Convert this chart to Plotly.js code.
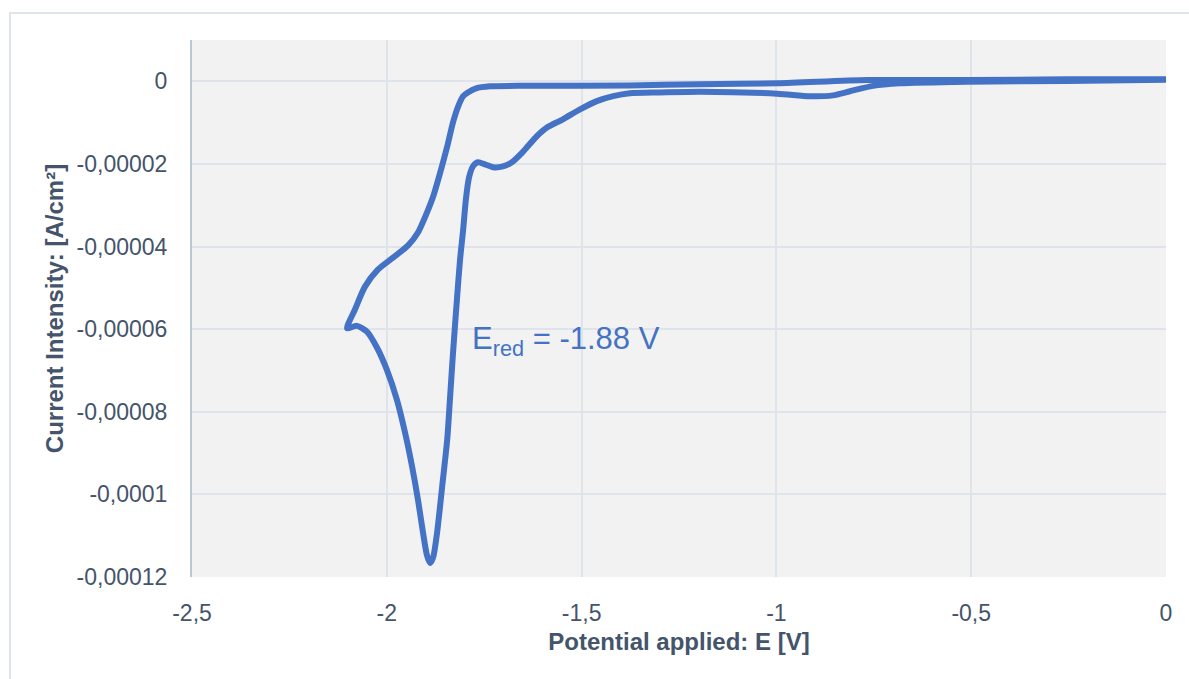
<!DOCTYPE html>
<html>
<head>
<meta charset="utf-8">
<script src="https://cdn.plot.ly/plotly-3.0.1.min.js"></script>
<style>
  html, body { margin: 0; padding: 0; background: #ffffff; overflow: hidden; }
  #frame { position: absolute; left: 9px; top: 12px; width: 1300px; height: 800px;
           border-left: 2px solid #dfe4ea; border-top: 2px solid #dfe4ea; box-sizing: border-box; }
  #chart { position: absolute; left: 0; top: 0; width: 1189px; height: 679px; }
</style>
</head>
<body>
<div id="frame"></div>
<div id="chart"></div>
<script>
// Potential (V) and current density (A/cm²), in scan order
const potential = [
  0.000, -0.254, -0.511, -0.767, -0.998, -1.196, -1.376, -1.632, -1.735, -1.771,
  -1.792, -1.804, -1.817, -1.830, -1.845, -1.863, -1.881, -1.897, -1.920, -1.946,
  -1.984, -2.023, -2.056, -2.082, -2.102,
  -2.077, -2.051, -2.025, -2.000, -1.974, -1.953, -1.935, -1.920, -1.907, -1.897,
  -1.889, -1.881, -1.871, -1.858, -1.845, -1.838, -1.830, -1.820, -1.812, -1.804,
  -1.797, -1.789, -1.779, -1.766, -1.748, -1.727, -1.702, -1.679, -1.650, -1.615,
  -1.589, -1.548, -1.504, -1.461, -1.419, -1.376, -1.299, -1.196, -0.998, -0.914,
  -0.855, -0.811, -0.752, -0.683, -0.511, -0.254, 0.000
];
const current = [
  0.0000005, 0.0000005, 0.0000003, 0.0000003, -0.0000005, -0.0000007, -0.0000010, -0.0000011, -0.0000012, -0.0000017,
  -0.0000027, -0.0000036, -0.0000061, -0.0000099, -0.0000158, -0.0000221, -0.0000279, -0.0000318, -0.0000366, -0.0000398,
  -0.0000427, -0.0000456, -0.0000497, -0.0000553, -0.0000598,
  -0.0000592, -0.0000606, -0.0000645, -0.0000698, -0.0000771, -0.0000851, -0.0000933, -0.0001013, -0.0001093, -0.0001147,
  -0.0001166, -0.0001152, -0.0001093, -0.0000982, -0.0000868, -0.0000771, -0.0000657, -0.0000528, -0.0000432, -0.0000359,
  -0.0000286, -0.0000233, -0.0000206, -0.0000196, -0.0000201, -0.0000208, -0.0000206, -0.0000196, -0.0000170, -0.0000133,
  -0.0000112, -0.0000092, -0.0000068, -0.0000048, -0.0000036, -0.0000029, -0.0000027, -0.0000025, -0.0000030, -0.0000036,
  -0.0000034, -0.0000024, -0.0000011, -0.0000005, -0.0000001, 0.0000001, 0.0000004
];

const xTickVals = [-2.5, -2, -1.5, -1, -0.5, 0];
const xTickText = ["-2,5", "-2", "-1,5", "-1", "-0,5", "0"];
const yTickVals = [0, -0.00002, -0.00004, -0.00006, -0.00008, -0.0001, -0.00012];
const yTickText = ["0", "-0,00002", "-0,00004", "-0,00006", "-0,00008", "-0,0001", "-0,00012"];

const annText = "E<sub>red</sub> = -1.88 V";
const annX = -1.786;
const annY = -0.0000628;

const fontFam = "Liberation Sans, Arial, Helvetica, sans-serif";
const txtCol = "#44546a";
const gridCol = "#dfe4ea";

const trace = {
  x: potential, y: current, type: "scatter", mode: "lines",
  line: { color: "#4472c4", width: 6, shape: "spline", smoothing: 0.7 },
  hoverinfo: "skip"
};

const layout = {
  width: 1189, height: 679,
  margin: { l: 192, r: 23, t: 40, b: 102, pad: 0 },
  paper_bgcolor: "rgba(0,0,0,0)",
  plot_bgcolor: "#f2f2f2",
  showlegend: false,
  font: { family: fontFam, color: txtCol, size: 23 },
  xaxis: {
    range: [-2.5, 0], tickvals: xTickVals, ticktext: xTickText,
    showgrid: true, gridcolor: gridCol, gridwidth: 2, zeroline: false,
    showline: false, ticks: "outside", ticklen: 15, tickcolor: "rgba(0,0,0,0)",
    tickfont: { family: fontFam, size: 23, color: txtCol },
    title: { text: "Potential applied: E [V]", standoff: 8,
             font: { family: fontFam, size: 24, color: txtCol, weight: "bold" } },
    fixedrange: true
  },
  yaxis: {
    range: [-0.00012, 0.00001], tickvals: yTickVals, ticktext: yTickText,
    showgrid: true, gridcolor: gridCol, gridwidth: 2, zeroline: false,
    showline: true, linecolor: "#bcc7d5", linewidth: 2,
    ticks: "outside", ticklen: 18, tickcolor: "rgba(0,0,0,0)",
    tickfont: { family: fontFam, size: 23, color: txtCol },
    title: { text: "Current Intensity: [A/cm²]", standoff: 6,
             font: { family: fontFam, size: 24, color: txtCol, weight: "bold" } },
    fixedrange: true
  },
  annotations: [{
    x: annX, y: annY, xref: "x", yref: "y", text: annText, showarrow: false,
    xanchor: "left", yanchor: "middle",
    font: { family: fontFam, size: 31, color: "#4472c4" }
  }]
};

Plotly.newPlot("chart", [trace], layout, { staticPlot: true, displayModeBar: false });
</script>
</body>
</html>
